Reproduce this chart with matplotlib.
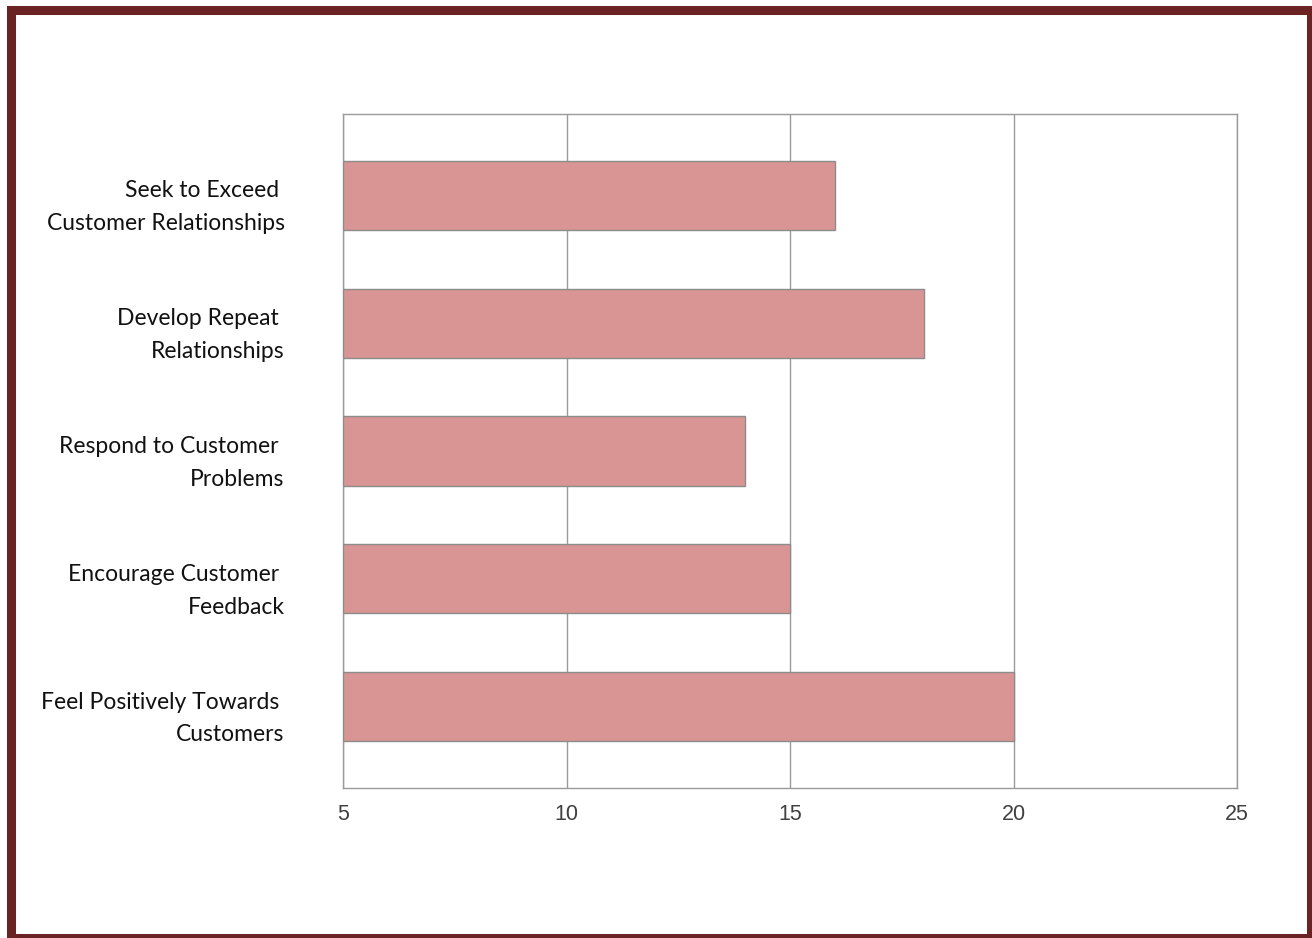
import matplotlib
matplotlib.use('Agg')
import matplotlib.pyplot as plt
import matplotlib.transforms as mtransforms
from matplotlib.patches import Rectangle

CATEGORIES = ['Seek to Exceed \nCustomer Relationships',
              'Develop Repeat \nRelationships',
              'Respond to Customer \nProblems',
              'Encourage Customer \nFeedback',
              'Feel Positively Towards \nCustomers']
VALUES = [16, 18, 14, 15, 20]
X_TICKS = [5, 10, 15, 20, 25]

BAR_COLOR = '#D99594'
GRID_COLOR = '#9A9A9A'
BORDER_COLOR = '#6B2222'

fig = plt.figure(figsize=(13.12, 9.38), dpi=100)
ax = fig.add_axes([343/1312, 1 - 788/938, (1237-343)/1312, (788-114)/938])

xmin = X_TICKS[0]
ys = list(range(len(CATEGORIES)))
ax.barh(ys, [v - xmin for v in VALUES], left=xmin, height=0.54,
        color=BAR_COLOR, edgecolor='#8C8C8C', linewidth=1, zorder=3)

ax.set_xlim(X_TICKS[0], X_TICKS[-1])
ax.set_ylim(4.637, -0.637)
ax.set_xticks(X_TICKS)
ax.set_xticklabels([str(t) for t in X_TICKS], fontsize=15.5, color='#404040',
                   family=['Liberation Sans', 'DejaVu Sans'])
ax.set_yticks(ys)
ax.set_yticklabels(CATEGORIES, fontsize=16.5, color='#111111', linespacing=1.7,
                   family=['Lato', 'DejaVu Sans'])
ax.tick_params(axis='both', length=0)
ax.tick_params(axis='y', pad=42)
ax.tick_params(axis='x', pad=11.5)

# labels sit a little below the bar centres in the original
shift = mtransforms.ScaledTranslation(0, -4/100, fig.dpi_scale_trans)
for lab in ax.get_yticklabels():
    lab.set_transform(lab.get_transform() + shift)

ax.xaxis.grid(True, color=GRID_COLOR, linewidth=1, zorder=0)
ax.set_axisbelow(True)
for s in ax.spines.values():
    s.set_color(GRID_COLOR)
    s.set_linewidth(1)

# dark red frame round the whole picture
fig.patches.append(Rectangle((10.5/1312, 1 - 937.5/938), 1300/1312, 927/938,
                             transform=fig.transFigure, fill=False,
                             edgecolor=BORDER_COLOR, linewidth=6.5))

fig.savefig('out.png', dpi=100)
